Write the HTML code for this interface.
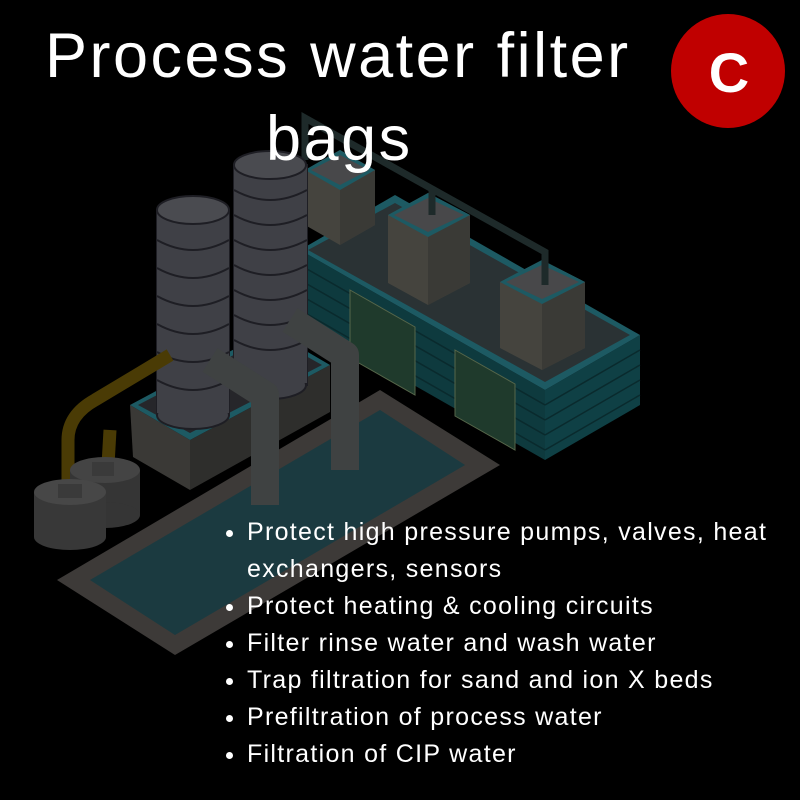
<!DOCTYPE html>
<html><head><meta charset="utf-8"><style>
html,body{margin:0;padding:0;background:#000;}
#c{position:relative;width:800px;height:800px;overflow:hidden;background:#000;font-family:"Liberation Sans",sans-serif;color:#fff;}
svg{position:absolute;left:0;top:0;}
.t{position:absolute;font-size:63px;line-height:1;white-space:nowrap;letter-spacing:2.5px;}
ul{position:absolute;left:222px;top:514px;margin:0;padding:0 0 0 25px;font-size:25px;line-height:37px;letter-spacing:1.3px;}
li{white-space:nowrap;}
</style></head><body><div id="c">
<svg width="800" height="800" viewBox="0 0 800 800">
<polygon points="300,250 545,390 545,460 300,320" fill="#0e3a3e"/>
<polygon points="545,390 640,335 640,405 545,460" fill="#0f4045"/>
<g stroke="#0a2a2d" stroke-width="1.5">
<line x1="300" y1="265" x2="545" y2="405"/><line x1="300" y1="280" x2="545" y2="420"/><line x1="300" y1="295" x2="545" y2="435"/><line x1="300" y1="310" x2="545" y2="450"/>
<line x1="545" y1="405" x2="640" y2="350"/><line x1="545" y1="420" x2="640" y2="365"/><line x1="545" y1="435" x2="640" y2="380"/><line x1="545" y1="450" x2="640" y2="395"/>
</g>
<polygon points="300,250 395,195 640,335 545,390" fill="#1d5a63"/>
<polygon points="308,250 395,203 630,335 545,382" fill="#2a3234"/>
<polygon points="350,290 415,327 415,395 350,358" fill="#1f3a2c" stroke="#56664a"/>
<polygon points="455,350 515,384 515,450 455,416" fill="#1f3a2c" stroke="#56664a"/>
<g>
<polygon points="305,170 340,150 375,170 375,225 340,245 305,225" fill="#45443e"/>
<polygon points="340,190 375,170 375,225 340,245" fill="#3a3a36"/>
<polygon points="305,170 340,150 375,170 340,190" fill="#1d5a63"/><polygon points="311,170 340,155 369,170 340,185" fill="#48484a"/>
<polygon points="388,215 428,193 470,215 470,283 428,305 388,283" fill="#45443e"/>
<polygon points="428,237 470,215 470,283 428,305" fill="#3a3a36"/>
<polygon points="388,215 428,193 470,215 428,237" fill="#1d5a63"/><polygon points="394,215 428,198 464,215 428,232" fill="#48484a"/>
<polygon points="500,282 542,260 585,282 585,348 542,370 500,348" fill="#45443e"/>
<polygon points="542,304 585,282 585,348 542,370" fill="#3a3a36"/>
<polygon points="500,282 542,260 585,282 542,304" fill="#1d5a63"/><polygon points="506,282 542,265 579,282 542,299" fill="#48484a"/>
</g>
<path d="M305 160 L305 118 L545 252 L545 285 M432 188 L432 215" stroke="#1e2a2a" stroke-width="7" fill="none"/>
<polygon points="130,405 190,440 190,490 133,457" fill="#3a3936"/>
<polygon points="190,440 330,365 330,412 190,490" fill="#2e2e2c"/>
<polygon points="130,405 270,330 330,365 190,440" fill="#1d5a63"/>
<polygon points="138,405 270,336 322,365 190,433" fill="#26262a"/>
<g fill="#3f4046" stroke="#1e1e24" stroke-width="2">
<rect x="234" y="165" width="73" height="220"/>
<ellipse cx="270" cy="385" rx="36" ry="14"/>
<rect x="234" y="165" width="73" height="218" stroke="none"/>
<ellipse cx="270" cy="165" rx="36" ry="14" fill="#4a4b50"/>
<rect x="157" y="210" width="72" height="205"/>
<ellipse cx="193" cy="415" rx="36" ry="14"/>
<rect x="157" y="210" width="72" height="203" stroke="none"/>
<ellipse cx="193" cy="210" rx="36" ry="14" fill="#4a4b50"/>
</g>
<g stroke="#1e1e24" stroke-width="2" fill="none">
<path d="M234 190 Q270 210 307 190 M234 215 Q270 235 307 215 M234 240 Q270 260 307 240 M234 265 Q270 285 307 265 M234 290 Q270 310 307 290 M234 315 Q270 335 307 315 M234 340 Q270 360 307 340"/>
<path d="M157 240 Q193 260 229 240 M157 268 Q193 288 229 268 M157 296 Q193 316 229 296 M157 324 Q193 344 229 324 M157 352 Q193 372 229 352 M157 380 Q193 400 229 380"/>
</g>
<polygon points="57,580 380,390 500,465 175,655" fill="#3d3a38"/>
<polygon points="90,580 380,410 465,465 175,635" fill="#1b3a40"/>
<path d="M290 320 L345 355 L345 470" stroke="#3f4242" stroke-width="28" fill="none" stroke-linejoin="round"/>
<path d="M210 360 L265 395 L265 505" stroke="#3f4242" stroke-width="28" fill="none" stroke-linejoin="round"/>
<path d="M170 355 L95 400 Q68 415 68 440 L68 488" stroke="#4a3b05" stroke-width="13" fill="none"/>
<path d="M110 430 L108 465" stroke="#4a3b05" stroke-width="13" fill="none"/>
<g>
<rect x="70" y="470" width="70" height="45" fill="#353535"/><ellipse cx="105" cy="515" rx="35" ry="13" fill="#353535"/><ellipse cx="105" cy="470" rx="35" ry="13" fill="#444"/>
<rect x="92" y="462" width="22" height="14" fill="#3a3a3a"/>
<rect x="34" y="492" width="72" height="45" fill="#383838"/><ellipse cx="70" cy="537" rx="36" ry="13" fill="#383838"/><ellipse cx="70" cy="492" rx="36" ry="13" fill="#474747"/>
<rect x="58" y="484" width="24" height="14" fill="#3a3a3a"/>
</g>
<circle cx="728" cy="71" r="57" fill="#c00000"/>
<text x="729" y="92" font-family="Liberation Sans" font-weight="bold" font-size="56" fill="#fff" text-anchor="middle">C</text>
</svg>
<div class="t" style="left:45px;top:25px;">Process water filter</div>
<div class="t" style="left:266px;top:108px;">bags</div>
<ul>
<li>Protect high pressure pumps, valves, heat<br>exchangers, sensors</li>
<li>Protect heating &amp; cooling circuits</li>
<li>Filter rinse water and wash water</li>
<li>Trap filtration for sand and ion X beds</li>
<li>Prefiltration of process water</li>
<li>Filtration of CIP water</li>
</ul>
</div></body></html>
